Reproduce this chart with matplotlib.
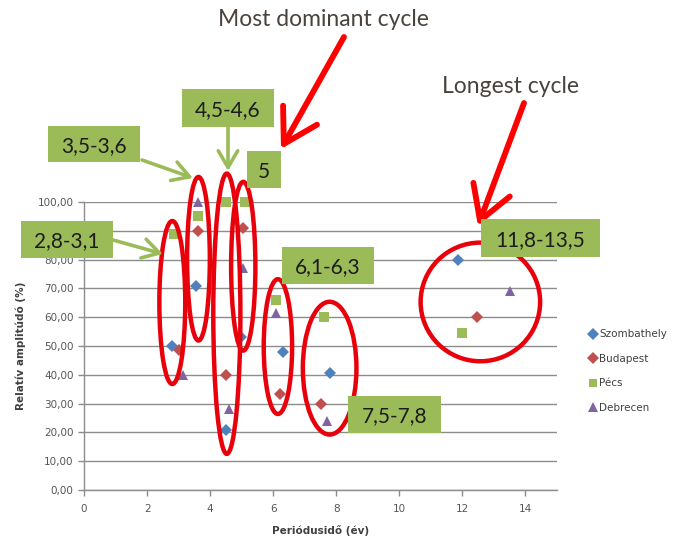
import matplotlib
matplotlib.use("Agg")
import matplotlib.pyplot as plt
from matplotlib.patches import Ellipse, Rectangle, FancyArrowPatch

# ---------------- data ----------------
series_names = ["Szombathely", "Budapest", "Pécs", "Debrecen"]
szombathely_x = [2.8, 3.55, 4.5, 4.97, 6.3, 7.8, 11.85]
szombathely_y = [50.0, 71.0, 21.0, 53.0, 48.0, 40.5, 80.0]
budapest_x = [3.0, 3.6, 4.5, 5.05, 6.2, 7.5, 12.45]
budapest_y = [48.5, 90.0, 40.0, 91.0, 33.5, 30.0, 60.0]
pecs_x = [2.85, 3.6, 4.5, 5.1, 6.1, 7.6, 12.0]
pecs_y = [89.0, 95.0, 100.0, 100.0, 66.0, 60.0, 54.5]
debrecen_x = [3.15, 3.63, 4.6, 5.05, 6.1, 7.7, 13.5]
debrecen_y = [40.0, 100.0, 28.0, 77.0, 61.5, 24.0, 69.0]

x_ticks = [0, 2, 4, 6, 8, 10, 12, 14]
y_ticks = [0, 10, 20, 30, 40, 50, 60, 70, 80, 90, 100]
x_label = "Periódusidő (év)"
y_label = "Relatív amplitúdó (%)"

cycle_labels = ["2,8-3,1", "3,5-3,6", "4,5-4,6", "5", "6,1-6,3", "7,5-7,8", "11,8-13,5"]
title_dominant = "Most dominant cycle"
title_longest = "Longest cycle"

# ---------------- figure ----------------
W, H = 682, 538
fig = plt.figure(figsize=(W / 100, H / 100), dpi=100)
ax = fig.add_axes([84 / W, 1 - 490 / H, (557 - 84) / W, (490 - 202) / H])

colors = ["#4F81BD", "#C0504D", "#9BBB59", "#8064A2"]
markers = ["D", "D", "s", "^"]
sizes = [6.5, 6.5, 7, 7.5]
xs = [szombathely_x, budapest_x, pecs_x, debrecen_x]
ys = [szombathely_y, budapest_y, pecs_y, debrecen_y]
for name, x, y, c, m, s in zip(series_names, xs, ys, colors, markers, sizes):
    ax.plot(x, y, linestyle="none", marker=m, color=c, markersize=s,
            markeredgewidth=0, label=name, zorder=3, clip_on=False)

ax.set_xlim(0, 15)
ax.set_ylim(0, 100)
ax.set_xticks(x_ticks)
ax.set_yticks(y_ticks)
ax.set_yticklabels([f"{v:.2f}".replace(".", ",") for v in y_ticks])
ax.tick_params(axis="both", labelsize=7.5, labelcolor="#555555", color="#8c8c8c",
               length=4, width=1)
ax.tick_params(axis="x", pad=6)
ax.grid(axis="y", color="#8c8c8c", linewidth=1)
ax.set_axisbelow(True)
for side in ["top", "right"]:
    ax.spines[side].set_visible(False)
for side in ["left", "bottom"]:
    ax.spines[side].set_color("#8c8c8c")
    ax.spines[side].set_linewidth(1)

ax.set_xlabel(x_label, fontsize=7.5, fontweight="bold", color="#404040", labelpad=8)
ax.set_ylabel(y_label, fontsize=7.5, fontweight="bold", color="#404040", labelpad=8)

leg = ax.legend(loc="upper left", bbox_to_anchor=(586 / W, 1 - 325 / H),
                bbox_transform=fig.transFigure, frameon=False, fontsize=7.5,
                handlelength=0.6, handletextpad=0.25, labelspacing=1.4,
                borderaxespad=0, markerscale=0.9)
for t in leg.get_texts():
    t.set_color("#404040")

# ---------------- red ellipses (data coords) ----------------
ellipses = [
    (2.80, 65.1, 0.82, 56.6),
    (3.63, 80.3, 0.72, 56.8),
    (4.53, 61.2, 0.86, 97.3),
    (5.05, 77.7, 0.77, 58.6),
    (6.15, 49.8, 0.90, 46.8),
    (7.79, 42.3, 1.70, 46.1),
    (12.57, 65.3, 3.79, 41.2),
]
for cx, cy, w, h in ellipses:
    ax.add_patch(Ellipse((cx, cy), w, h, fill=False, edgecolor="#E8000B",
                         linewidth=3.2, zorder=4, clip_on=False))

# ---------------- helpers in figure pixels ----------------
def fx(px):
    return px / W

def fy(py):
    return 1 - py / H

TEXT_FONT = ["Lato", "DejaVu Sans"]

def green_box(x0, y0, x1, y1, text):
    fig.add_artist(Rectangle((fx(x0), fy(y1)), fx(x1) - fx(x0), fy(y0) - fy(y1),
                             transform=fig.transFigure, facecolor="#9BBB59",
                             edgecolor="none", zorder=6))
    fig.text(fx((x0 + x1) / 2), fy((y0 + y1) / 2), text, ha="center", va="center_baseline",
             fontsize=15, color="#1c1c1c", family=TEXT_FONT, zorder=7)

def arrow(x0, y0, x1, y1, color, lw, hl, hw, ms):
    fig.add_artist(FancyArrowPatch((fx(x0), fy(y0)), (fx(x1), fy(y1)),
                                   transform=fig.transFigure,
                                   arrowstyle=f"->,head_length={hl},head_width={hw}",
                                   mutation_scale=ms, color=color, linewidth=lw,
                                   zorder=5, shrinkA=0, shrinkB=0))

GREEN = "#9BBB59"
arrow(113, 240, 163, 254, GREEN, 2.6, 0.6, 0.35, 20)
arrow(142, 160, 193, 178, GREEN, 2.6, 0.6, 0.35, 20)
arrow(228, 127, 228, 171, GREEN, 2.6, 0.6, 0.35, 20)

green_box(21, 221, 113, 258, cycle_labels[0])
green_box(48, 126, 140, 162, cycle_labels[1])
green_box(182, 89, 274, 127, cycle_labels[2])
green_box(247, 151, 281, 188, cycle_labels[3])
green_box(282, 247, 374, 284, cycle_labels[4])
green_box(348, 396, 441, 433, cycle_labels[5])
green_box(481, 219, 600, 257, cycle_labels[6])

RED = "#FF0000"
arrow(344, 37, 281, 149, RED, 4.2, 0.85, 0.5, 28)
arrow(524, 103, 478, 226, RED, 4.2, 0.85, 0.5, 28)

fig.text(fx(323), fy(18), title_dominant, ha="center", va="center_baseline",
         fontsize=16.5, color="#4a423d", family=TEXT_FONT)
fig.text(fx(510), fy(84), title_longest, ha="center", va="center_baseline",
         fontsize=16.5, color="#4a423d", family=TEXT_FONT)

fig.savefig("out.png", dpi=100)
